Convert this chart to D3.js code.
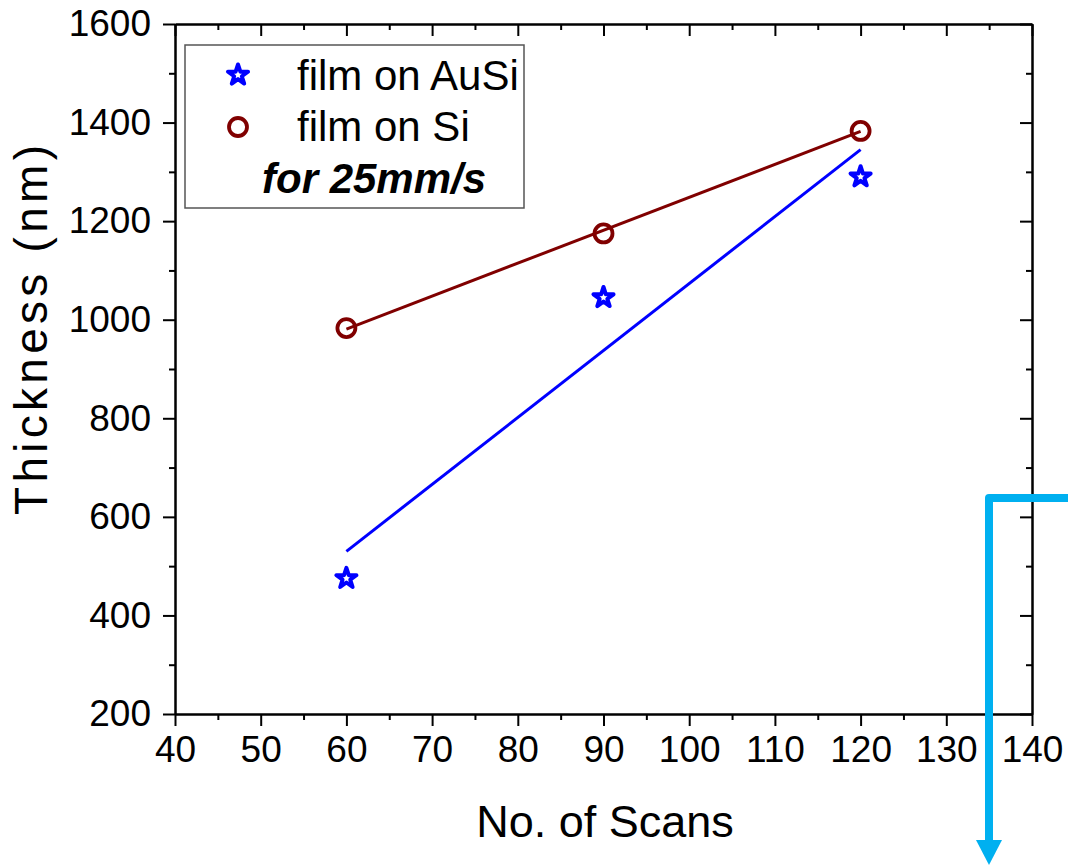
<!DOCTYPE html>
<html>
<head>
<meta charset="utf-8">
<script src="https://cdn.jsdelivr.net/npm/d3@7"></script>
<style>
  html, body { margin: 0; padding: 0; background: #fff; }
  svg { display: block; font-family: Arial, "Liberation Sans", sans-serif; }
</style>
</head>
<body>
<svg id="chart" width="1068" height="866"></svg>
<script>
// ---- data ----
const scans = [60, 90, 120];
const thicknessAuSi = [475, 1045, 1290];
const thicknessSi = [983, 1175, 1383];
const fitScans = [60, 120];
const fitAuSi = [530, 1345];
const fitSi = [981, 1382];
const xTicks = [40, 50, 60, 70, 80, 90, 100, 110, 120, 130, 140];
const xMinorTicks = [45, 55, 65, 75, 85, 95, 105, 115, 125, 135];
const yTicks = [200, 400, 600, 800, 1000, 1200, 1400, 1600];
const yMinorTicks = [300, 500, 700, 900, 1100, 1300, 1500];
const seriesNames = ["film on AuSi", "film on Si"];
const legendNote = "for 25mm/s";
const xTitle = "No. of Scans";
const yTitle = "Thickness (nm)";

const svg = d3.select("#chart");
const plotL = 175, plotR = 1032, plotT = 24, plotB = 714;
const x = d3.scaleLinear().domain([40, 140]).range([plotL, plotR]);
const y = d3.scaleLinear().domain([200, 1600]).range([plotB, plotT]);

const blue = "#0000ff", red = "#800000";
const major = 12, minor = 6;

function styleAxis(g) {
  g.selectAll("path.domain").attr("stroke", "#000").attr("stroke-width", 2);
  g.selectAll(".tick line").attr("stroke", "#000").attr("stroke-width", 2);
  g.selectAll(".tick text").attr("font-size", 37).attr("fill", "#000")
    .attr("font-family", "Arial, 'Liberation Sans', sans-serif");
}

// bottom axis
svg.append("g").attr("transform", `translate(0,${plotB})`)
  .call(d3.axisBottom(x).tickValues(xMinorTicks).tickSize(minor).tickSizeOuter(0).tickFormat(""))
  .call(styleAxis);
svg.append("g").attr("transform", `translate(0,${plotB})`)
  .call(d3.axisBottom(x).tickValues(xTicks).tickSize(major).tickSizeOuter(0).tickPadding(10).tickFormat(d3.format("d")))
  .call(styleAxis);
// top axis
svg.append("g").attr("transform", `translate(0,${plotT})`)
  .call(d3.axisTop(x).tickValues(xMinorTicks).tickSize(-minor).tickSizeOuter(0).tickFormat(""))
  .call(styleAxis);
svg.append("g").attr("transform", `translate(0,${plotT})`)
  .call(d3.axisTop(x).tickValues(xTicks).tickSize(-major).tickSizeOuter(0).tickFormat(""))
  .call(styleAxis);
// left axis
svg.append("g").attr("transform", `translate(${plotL},0)`)
  .call(d3.axisLeft(y).tickValues(yMinorTicks).tickSize(minor).tickSizeOuter(0).tickFormat(""))
  .call(styleAxis);
svg.append("g").attr("transform", `translate(${plotL},0)`)
  .call(d3.axisLeft(y).tickValues(yTicks).tickSize(major).tickSizeOuter(0).tickPadding(12).tickFormat(d3.format("d")))
  .call(styleAxis);
// right axis
svg.append("g").attr("transform", `translate(${plotR},0)`)
  .call(d3.axisRight(y).tickValues(yMinorTicks).tickSize(-minor).tickSizeOuter(0).tickFormat(""))
  .call(styleAxis);
svg.append("g").attr("transform", `translate(${plotR},0)`)
  .call(d3.axisRight(y).tickValues(yTicks).tickSize(-major).tickSizeOuter(0).tickFormat(""))
  .call(styleAxis);

// axis titles
svg.append("text").attr("x", 605).attr("y", 837).attr("text-anchor", "middle")
  .attr("font-size", 45).text(xTitle);
svg.append("text").attr("transform", "translate(47,330) rotate(-90)").attr("text-anchor", "middle")
  .attr("font-size", 46).attr("textLength", 370).attr("lengthAdjust", "spacing").text(yTitle);

// fit lines
const line = d3.line().x(d => x(d[0])).y(d => y(d[1]));
svg.append("path").datum(fitScans.map((s, i) => [s, fitSi[i]]))
  .attr("d", line).attr("fill", "none").attr("stroke", red).attr("stroke-width", 3);
svg.append("path").datum(fitScans.map((s, i) => [s, fitAuSi[i]]))
  .attr("d", line).attr("fill", "none").attr("stroke", blue).attr("stroke-width", 3);

// markers
const star = d3.symbol().type(d3.symbolStar).size(125);
svg.append("g").selectAll("path").data(scans.map((s, i) => [s, thicknessAuSi[i]]))
  .join("path").attr("d", star)
  .attr("transform", d => `translate(${x(d[0])},${y(d[1])})`)
  .attr("fill", "#fff").attr("stroke", blue).attr("stroke-width", 4).attr("stroke-linejoin", "round");
svg.append("g").selectAll("circle").data(scans.map((s, i) => [s, thicknessSi[i]]))
  .join("circle").attr("cx", d => x(d[0])).attr("cy", d => y(d[1])).attr("r", 9)
  .attr("fill", "none").attr("stroke", red).attr("stroke-width", 3.8);

// legend
const lg = svg.append("g");
lg.append("rect").attr("x", 185).attr("y", 45).attr("width", 339).attr("height", 163)
  .attr("fill", "#fff").attr("stroke", "#555").attr("stroke-width", 1.5);
lg.append("path").attr("d", star).attr("transform", "translate(238,75)")
  .attr("fill", "#fff").attr("stroke", blue).attr("stroke-width", 4).attr("stroke-linejoin", "round");
lg.append("circle").attr("cx", 238).attr("cy", 127).attr("r", 9)
  .attr("fill", "none").attr("stroke", red).attr("stroke-width", 3.8);
lg.append("text").attr("x", 297).attr("y", 90).attr("font-size", 42).text(seriesNames[0]);
lg.append("text").attr("x", 297).attr("y", 141).attr("font-size", 42).text(seriesNames[1]);
lg.append("text").attr("x", 262).attr("y", 193).attr("font-size", 42)
  .attr("font-weight", "bold").attr("font-style", "italic").text(legendNote);

// blue annotation arrow
const arrowColor = "#00b0f0";
svg.append("path").attr("d", "M1068,498 H989 V842")
  .attr("fill", "none").attr("stroke", arrowColor).attr("stroke-width", 8).attr("stroke-linejoin", "round");
svg.append("path").attr("d", "M976,840 L1002,840 L989,865 Z").attr("fill", arrowColor);
</script>
</body>
</html>
